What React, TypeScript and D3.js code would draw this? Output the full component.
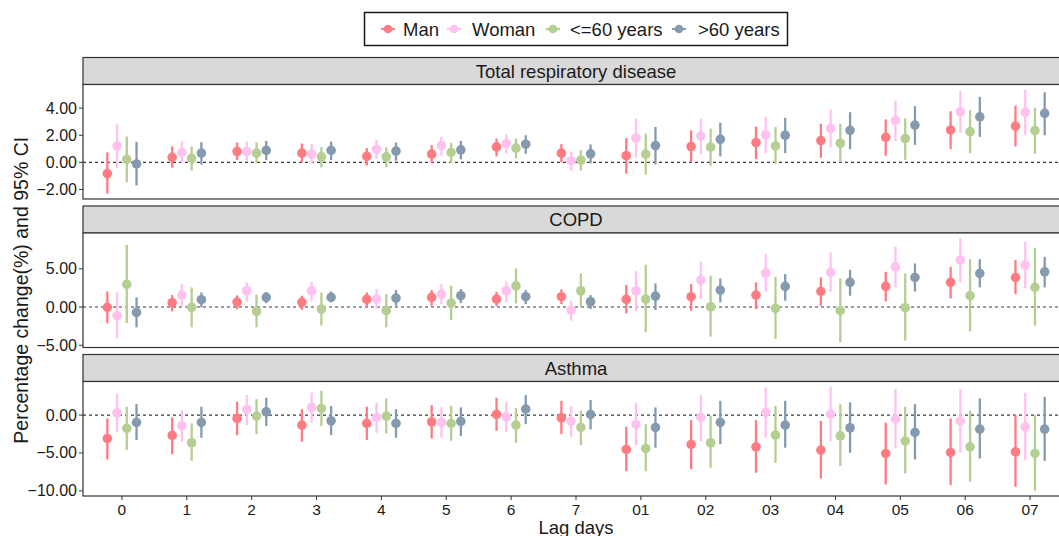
import React from "react";
import * as d3 from "d3";

const lagLabels = ["0", "1", "2", "3", "4", "5", "6", "7", "01", "02", "03", "04", "05", "06", "07"];
const seriesNames = ["Man", "Woman", "<=60 years", ">60 years"];
const seriesColors = ["#FF7B82", "#FFC2EE", "#B5CE92", "#849BAF"];
const panelTitles = ["Total respiratory disease", "COPD", "Asthma"];
const panelTicks = [[-2, 0, 2, 4], [-5, 0, 5], [-10, -5, 0]];

// [estimate, lower, upper]
const totalMan = [[-0.83,-2.32,0.73],[0.37,-0.39,1.17],[0.80,0.17,1.46],[0.68,0.0,1.39],[0.44,-0.24,1.05],[0.61,-0.07,1.27],[1.14,0.44,1.76],[0.68,0.0,1.34],[0.49,-0.83,1.78],[1.17,0.0,2.36],[1.46,0.24,2.63],[1.61,0.34,2.85],[1.85,0.49,3.17],[2.39,0.97,3.77],[2.68,1.17,4.19]];
const totalWoman = [[1.21,-0.44,2.80],[0.73,-0.07,1.56],[0.80,0.12,1.53],[0.61,-0.07,1.39],[0.97,0.24,1.68],[1.24,0.49,1.90],[1.39,0.66,2.07],[0.12,-0.61,0.80],[1.78,0.34,3.22],[1.95,0.61,3.22],[2.02,0.68,3.36],[2.51,1.10,3.90],[3.09,1.58,4.56],[3.73,2.19,5.29],[3.70,2.0,5.36]];
const totalYoung = [[0.22,-1.46,1.90],[0.29,-0.61,1.17],[0.68,-0.07,1.46],[0.41,-0.37,1.12],[0.41,-0.37,1.10],[0.73,-0.05,1.44],[1.05,0.29,1.76],[0.17,-0.61,0.90],[0.61,-0.90,2.12],[1.12,-0.24,2.49],[1.21,-0.12,2.61],[1.41,0.0,2.85],[1.76,0.19,3.24],[2.27,0.68,3.85],[2.34,0.63,4.04]];
const totalOld = [[-0.12,-1.71,1.51],[0.68,-0.17,1.49],[0.88,0.17,1.58],[0.88,0.17,1.53],[0.83,0.12,1.46],[0.92,0.22,1.58],[1.34,0.63,2.0],[0.63,-0.07,1.32],[1.24,-0.15,2.61],[1.70,0.44,2.93],[2.0,0.68,3.29],[2.36,0.97,3.70],[2.75,1.29,4.14],[3.36,1.88,4.83],[3.61,2.0,5.17]];

const copdMan = [[-0.04,-2.13,2.04],[0.56,-0.57,1.56],[0.65,-0.30,1.52],[0.61,-0.35,1.48],[1.0,0.04,1.91],[1.26,0.17,2.22],[1.04,0.09,2.0],[1.35,0.39,2.30],[1.0,-0.83,2.87],[1.35,-0.48,3.0],[1.56,-0.26,3.22],[2.04,0.17,3.87],[2.70,0.74,4.61],[3.22,1.13,5.26],[3.87,1.69,6.13]];
const copdWoman = [[-1.13,-4.08,1.91],[1.56,0.09,3.0],[2.13,0.69,3.22],[2.13,0.74,3.30],[1.04,-0.26,2.35],[1.69,0.39,3.0],[2.13,0.61,3.35],[-0.39,-1.78,0.83],[2.13,-0.57,4.74],[3.52,1.04,5.91],[4.43,2.0,6.91],[4.52,2.0,7.13],[5.26,2.57,7.91],[6.13,3.22,9.0],[5.48,2.43,8.56]];
const copdYoung = [[2.96,-2.09,8.12],[-0.04,-2.65,2.57],[-0.57,-2.65,1.61],[-0.26,-2.43,1.91],[-0.48,-2.65,1.69],[0.52,-1.69,2.78],[2.78,0.48,5.04],[2.13,-0.04,4.39],[1.04,-3.30,5.52],[0.04,-3.87,4.09],[-0.17,-4.17,3.96],[-0.48,-4.61,3.74],[-0.09,-4.39,4.39],[1.48,-3.17,6.26],[2.57,-2.43,7.69]];
const copdOld = [[-0.70,-2.65,1.26],[0.96,-0.04,1.91],[1.26,0.52,1.96],[1.26,0.61,2.04],[1.17,0.17,2.22],[1.48,0.52,2.35],[1.35,0.39,2.22],[0.69,-0.26,1.56],[1.43,-0.39,3.09],[2.22,0.61,3.74],[2.70,0.83,4.30],[3.22,1.48,4.87],[3.87,2.04,5.69],[4.39,2.57,6.26],[4.61,2.57,6.56]];

const asthmaMan = [[-3.08,-5.85,-0.44],[-2.68,-5.15,-0.31],[-0.44,-2.64,1.76],[-1.32,-3.52,0.79],[-1.10,-3.30,1.10],[-0.88,-3.08,1.32],[0.09,-2.07,2.30],[-0.35,-2.51,1.89],[-4.53,-7.40,-1.54],[-3.87,-7.13,-0.66],[-4.18,-7.61,-0.66],[-4.62,-8.36,-0.75],[-5.06,-9.15,-1.01],[-4.93,-9.25,-0.44],[-4.84,-9.46,0.0]];
const asthmaWoman = [[0.31,-2.29,2.87],[-1.40,-3.52,0.66],[0.75,-1.32,2.64],[1.02,-1.01,2.96],[-0.31,-2.33,1.63],[-0.97,-2.95,1.02],[-0.22,-2.20,1.76],[-0.79,-2.86,1.19],[-1.23,-3.96,1.63],[-0.31,-3.43,2.64],[0.35,-2.99,3.66],[0.13,-3.43,3.75],[-0.53,-4.40,3.44],[-0.79,-4.93,3.44],[-1.54,-5.94,2.96]];
const asthmaYoung = [[-1.76,-4.62,1.10],[-3.65,-6.03,-1.10],[-0.13,-2.51,2.11],[0.88,-1.45,3.22],[-0.13,-2.42,2.20],[-1.10,-3.39,1.23],[-1.32,-3.65,0.97],[-1.63,-3.96,0.57],[-4.40,-7.40,-1.19],[-3.65,-6.95,-0.09],[-2.64,-6.29,1.23],[-2.73,-6.73,1.41],[-3.43,-7.70,1.10],[-4.18,-8.80,0.57],[-5.06,-9.99,0.0]];
const asthmaOld = [[-0.97,-3.30,1.45],[-0.97,-2.99,1.10],[0.44,-1.45,2.30],[-0.75,-2.64,1.19],[-1.10,-2.99,0.79],[-0.84,-2.77,1.02],[0.79,-1.19,2.64],[0.09,-1.89,1.98],[-1.63,-4.31,1.02],[-0.97,-3.83,1.89],[-1.32,-4.31,1.89],[-1.67,-4.97,1.68],[-2.29,-5.85,1.45],[-1.85,-5.72,2.20],[-1.85,-6.03,2.43]];

const panelsData = [
  [totalMan, totalWoman, totalYoung, totalOld],
  [copdMan, copdWoman, copdYoung, copdOld],
  [asthmaMan, asthmaWoman, asthmaYoung, asthmaOld],
];

const W = 1059;
const H = 536;
const FONT = "'Liberation Sans', Arial, Helvetica, sans-serif";
const left = 83;
const right = 1069;
const top0 = 57.5;
const stripH = 27;
const panelH = 114.5;
const gapH = 7;
const dodge = [-0.225, -0.075, 0.075, 0.225];

export default function App() {
  const x = d3.scalePoint<string>().domain(lagLabels).range([left, right]).padding(0.6);
  const step = x.step();

  const panels = panelsData.map((series, pi) => {
    const stripTop = top0 + pi * (stripH + panelH + gapH);
    const pTop = stripTop + stripH;
    const pBottom = pTop + panelH;
    const all = series.flatMap((s) => s.flatMap((d) => [d[1], d[2]]));
    const lo = d3.min(all) as number;
    const hi = d3.max(all) as number;
    const pad = (hi - lo) * 0.05;
    const y = d3.scaleLinear().domain([lo - pad, hi + pad]).range([pBottom, pTop]);
    return { series, stripTop, pTop, pBottom, y, pi };
  });

  const lastBottom = panels[2].pBottom;
  const fmt = d3.format(".2f");

  const legendItems = [
    { key: 388, text: 403 },
    { key: 454, text: 472 },
    { key: 553, text: 570 },
    { key: 679, text: 698 },
  ];

  return (
    <svg width={W} height={H} style={{ position: "absolute", left: 0, top: 0, background: "#fff" }} fontFamily={FONT}>
      <rect x={0} y={0} width={W} height={H} fill="#fff" />
      {/* legend */}
      <rect x={364.5} y={12.5} width={423} height={33} fill="#fff" stroke="#1a1a1a" strokeWidth={1.5} />
      {legendItems.map((it, i) => (
        <g key={i}>
          <line x1={it.key - 7} x2={it.key + 7} y1={29} y2={29} stroke={seriesColors[i]} strokeWidth={2.2} />
          <circle cx={it.key} cy={29} r={4.3} fill={seriesColors[i]} />
          <text x={it.text} y={35.5} fontSize={18.5} fill="#1a1a1a">{seriesNames[i]}</text>
        </g>
      ))}

      {panels.map((p) => (
        <g key={p.pi}>
          <rect x={left} y={p.stripTop} width={right - left} height={stripH} fill="#D9D9D9" stroke="#333" strokeWidth={1.2} />
          <text x={(left + right) / 2} y={p.stripTop + stripH / 2 + 6.5} textAnchor="middle" fontSize={18.5} fill="#1a1a1a">
            {panelTitles[p.pi]}
          </text>
          <rect x={left} y={p.pTop} width={right - left} height={panelH} fill="#fff" />
          <line x1={left} x2={right} y1={p.y(0)} y2={p.y(0)} stroke="#3a3a3a" strokeWidth={1.1} strokeDasharray="3,3" />
          {p.series.map((s, si) => (
            <g key={si}>
              {s.map((d, ci) => {
                const cx = (x(lagLabels[ci]) as number) + dodge[si] * step;
                return (
                  <g key={ci}>
                    <line x1={cx} x2={cx} y1={p.y(d[1])} y2={p.y(d[2])} stroke={seriesColors[si]} strokeWidth={2.3} />
                    <circle cx={cx} cy={p.y(d[0])} r={4.8} fill={seriesColors[si]} />
                  </g>
                );
              })}
            </g>
          ))}
          <rect x={left} y={p.pTop} width={right - left} height={panelH} fill="none" stroke="#333" strokeWidth={1.2} />
          {panelTicks[p.pi].map((t) => (
            <g key={t}>
              <line x1={left - 4} x2={left} y1={p.y(t)} y2={p.y(t)} stroke="#333" strokeWidth={1} />
              <text x={left - 6} y={p.y(t) + 5.5} textAnchor="end" fontSize={16} fill="#1a1a1a">
                {fmt(t)}
              </text>
            </g>
          ))}
        </g>
      ))}

      {lagLabels.map((l) => (
        <g key={l}>
          <line x1={x(l)} x2={x(l)} y1={lastBottom} y2={lastBottom + 4} stroke="#333" strokeWidth={1} />
          <text x={x(l)} y={514.5} textAnchor="middle" fontSize={15.5} fill="#1a1a1a">{l}</text>
        </g>
      ))}

      <text x={(left + right) / 2} y={533.5} textAnchor="middle" fontSize={18.5} fill="#1a1a1a">Lag days</text>
      <text
        transform={`translate(28, ${(panels[0].pTop + lastBottom) / 2}) rotate(-90)`}
        textAnchor="middle"
        fontSize={19.5}
        fill="#1a1a1a"
      >
        Percentage change(%) and 95% CI
      </text>
    </svg>
  );
}
